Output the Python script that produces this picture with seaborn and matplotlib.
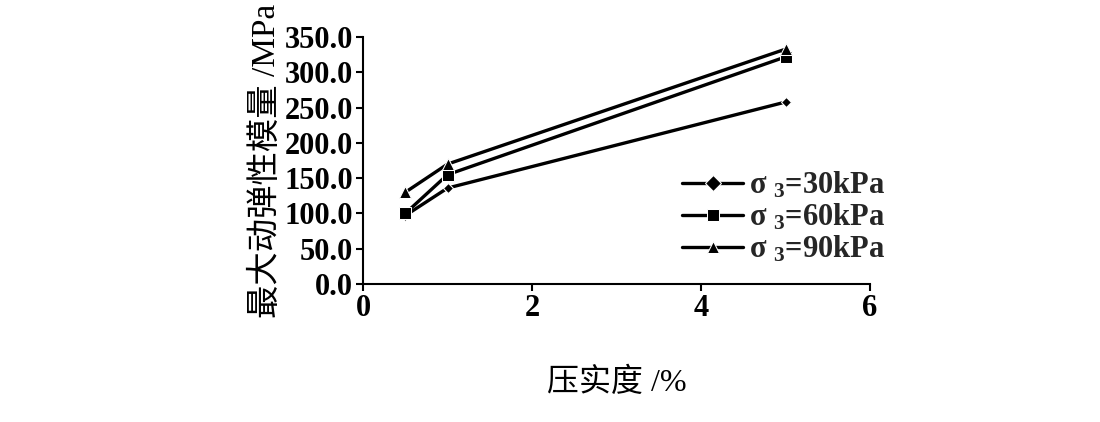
import matplotlib
matplotlib.use("Agg")
import matplotlib.pyplot as plt
import seaborn as sns
import pandas as pd

compaction = [0.5, 1.0, 5.0]
e_30 = [97.0, 136.0, 258.0]
e_60 = [100.0, 155.0, 322.0]
e_90 = [130.0, 170.0, 333.0]
series_labels = ["σ $_3$=30kPa", "σ $_3$=60kPa", "σ $_3$=90kPa"]
y_ticks = [0, 50, 100, 150, 200, 250, 300, 350]
x_ticks = [0, 2, 4, 6]

rows = []
for lab, vals in zip(series_labels, [e_30, e_60, e_90]):
    for x, v in zip(compaction, vals):
        rows.append({"x": x, "y": v, "s": lab})
df = pd.DataFrame(rows)

sns.set_theme(style="ticks")
plt.rcParams["font.family"] = ["Liberation Serif", "Noto Sans CJK SC", "DejaVu Sans"]
plt.rcParams["mathtext.fontset"] = "custom"
plt.rcParams["mathtext.rm"] = "Liberation Serif:bold"
plt.rcParams["mathtext.default"] = "rm"

fig = plt.figure(figsize=(11, 4.22), dpi=100)
ax = fig.add_axes([0.330, 0.327, 0.461, 0.585])

markers = {series_labels[0]: "D", series_labels[1]: "s", series_labels[2]: "^"}
sizes = {series_labels[0]: 5, series_labels[1]: 9, series_labels[2]: 8}
sns.lineplot(data=df, x="x", y="y", hue="s", style="s",
             palette=["black"] * 3, markers=markers, dashes=False,
             linewidth=2.4, markersize=8, ax=ax)
for line, lab in zip(ax.get_lines(), series_labels):
    line.set_markersize(sizes[lab])

ax.set_xlim(0, 6)
ax.set_ylim(0, 350)
ax.set_xticks(x_ticks)
ax.set_xticklabels([str(t) for t in x_ticks])
ax.set_yticks(y_ticks)
ax.set_yticklabels([f"{t:.1f}" for t in y_ticks])
sns.despine(ax=ax)
for sp in ["left", "bottom"]:
    ax.spines[sp].set_linewidth(1.5)
    ax.spines[sp].set_color("black")
ax.tick_params(axis="both", direction="out", length=5, width=1.5, colors="black",
               labelsize=22, pad=2)
for t in ax.get_xticklabels() + ax.get_yticklabels():
    t.set_fontweight("bold")

ax.set_xlabel("压实度 /%", fontsize=23, labelpad=32, color="black")
ax.set_ylabel("最大动弹性模量 /MPa", fontsize=24, labelpad=2, color="black")

handles, labels = ax.get_legend_handles_labels()
leg = ax.legend(handles, labels, loc="upper left", bbox_to_anchor=(0.605, 0.51),
                frameon=False, fontsize=22, handlelength=2.0, handletextpad=0.2,
                labelspacing=0.05, borderaxespad=0)
for t in leg.get_texts():
    t.set_fontweight("bold")

fig.savefig("out.png", dpi=100)
